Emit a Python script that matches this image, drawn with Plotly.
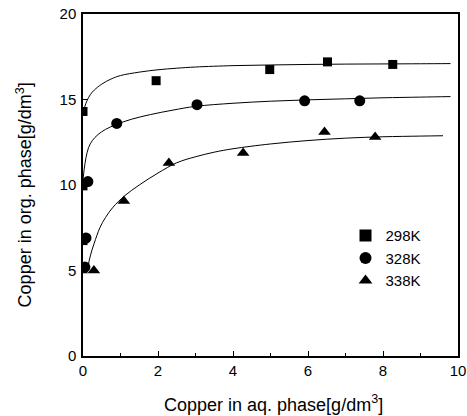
import plotly.graph_objects as go

# Measured points
x_298 = [0.0, 0.0, 0.0, 0.0, 1.95, 4.98, 6.52, 8.26]
y_298 = [5.1, 6.75, 9.95, 14.3, 16.1, 16.75, 17.2, 17.05]
x_328 = [0.05, 0.08, 0.13, 0.9, 3.04, 5.91, 7.38]
y_328 = [5.2, 6.9, 10.2, 13.6, 14.7, 14.92, 14.92]
x_338 = [0.29, 1.09, 2.29, 4.27, 6.44, 7.79]
y_338 = [5.0, 9.06, 11.28, 11.87, 13.1, 12.8]

# Fitted curves
cx_298 = [0, 0.05, 0.1, 0.2, 0.3, 0.5, 0.75, 1.0, 1.5, 2, 2.5, 3, 4, 5, 6, 7, 8, 9, 9.8]
cy_298 = [14.3, 14.6, 14.9, 15.3, 15.55, 15.9, 16.2, 16.4, 16.6, 16.74, 16.83, 16.9, 16.98, 17.02, 17.05, 17.07, 17.08, 17.09, 17.1]
cx_328 = [0, 0.03, 0.08, 0.15, 0.25, 0.4, 0.6, 0.9, 1.3, 1.8, 2.4, 3, 4, 5, 6, 7, 8, 9, 9.8]
cy_328 = [10.3, 10.9, 11.6, 12.2, 12.6, 12.95, 13.25, 13.55, 13.85, 14.12, 14.38, 14.6, 14.78, 14.9, 14.98, 15.04, 15.1, 15.14, 15.17]
cx_338 = [0.12, 0.2, 0.3, 0.45, 0.6, 0.8, 1.1, 1.5, 2.0, 2.5, 3.0, 3.5, 4, 5, 6, 7, 8, 9, 9.6]
cy_338 = [5.1, 5.9, 6.6, 7.5, 8.1, 8.7, 9.35, 10.0, 10.7, 11.3, 11.65, 11.92, 12.12, 12.4, 12.6, 12.74, 12.82, 12.86, 12.88]

labels = ["298K", "328K", "338K"]
x_title = "Copper in aq. phase[g/dm<sup>3</sup>]"
y_title = "Copper in org. phase[g/dm<sup>3</sup>]"

FONT = "Liberation Sans, Arial"

fig = go.Figure()
for cx, cy in [(cx_298, cy_298), (cx_328, cy_328), (cx_338, cy_338)]:
    fig.add_trace(go.Scatter(x=cx, y=cy, mode="lines", line=dict(color="black", width=1, shape="spline"),
                             showlegend=False, hoverinfo="skip"))

fig.add_trace(go.Scatter(x=x_298, y=y_298, mode="markers", name=labels[0],
                         marker=dict(symbol="square", size=9, color="black")))
fig.add_trace(go.Scatter(x=x_328, y=y_328, mode="markers", name=labels[1],
                         marker=dict(symbol="circle", size=11, color="black")))
fig.add_trace(go.Scatter(x=x_338, y=y_338, mode="markers", name=labels[2],
                         marker=dict(symbol="triangle-up", size=11, color="black")))

axis_common = dict(showline=True, linecolor="black", linewidth=1.5, mirror=True, automargin=False,
                   ticks="inside", ticklen=5, tickcolor="black", showgrid=False, zeroline=False,
                   tickfont=dict(family=FONT, size=15, color="black"))

fig.update_xaxes(range=[0, 10], tickvals=[0, 2, 4, 6, 8, 10],
                 minor=dict(ticks="inside", ticklen=3, dtick=1, tickcolor="black"),
                 **axis_common)
fig.update_yaxes(range=[0, 20], tickvals=[0, 5, 10, 15, 20], ticklabelstandoff=2,
                 **axis_common)

fig.add_annotation(text=x_title, xref="paper", yref="paper", x=0.509, y=-0.14,
                   xanchor="center", yanchor="middle", showarrow=False,
                   font=dict(family=FONT, size=18, color="black"))
fig.add_annotation(text=y_title, xref="paper", yref="paper", x=-0.157, y=0.47,
                   xanchor="center", yanchor="middle", textangle=-90, showarrow=False,
                   font=dict(family=FONT, size=18, color="black"))

fig.update_layout(
    width=467, height=416,
    margin=dict(l=83, r=9, t=14, b=60),
    plot_bgcolor="white", paper_bgcolor="white",
    font=dict(family=FONT, size=15, color="black"),
    legend=dict(x=0.70, y=0.40, xanchor="left", yanchor="top", bgcolor="rgba(0,0,0,0)",
                font=dict(size=15), itemsizing="constant"),
)

fig.write_html("out.html")
